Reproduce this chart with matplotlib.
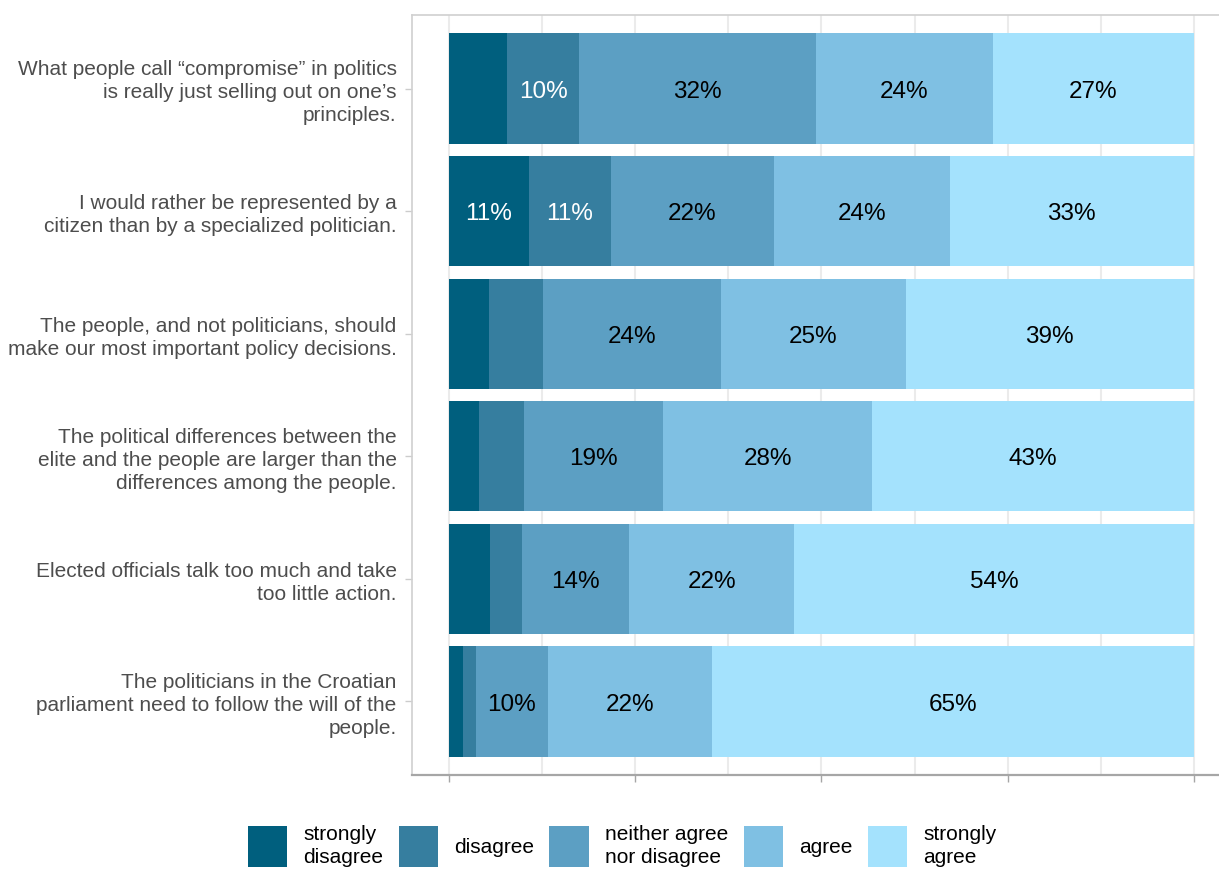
import matplotlib
matplotlib.use("Agg")
import matplotlib.pyplot as plt
import numpy as np

plt.rcParams["font.family"] = ["Liberation Sans", "DejaVu Sans"]

statements = [
    "What people call \u201ccompromise\u201d in politics\nis really just selling out on one\u2019s\nprinciples.",
    "I would rather be represented by a\ncitizen than by a specialized politician.",
    "The people, and not politicians, should\nmake our most important policy decisions.",
    "The political differences between the\nelite and the people are larger than the\ndifferences among the people.",
    "Elected officials talk too much and take\ntoo little action.",
    "The politicians in the Croatian\nparliament need to follow the will of the\npeople.",
]

responses = ["strongly\ndisagree", "disagree", "neither agree\nnor disagree", "agree", "strongly\nagree"]

strongly_disagree = [7.8, 10.7, 5.4, 4.0, 5.5, 1.9]
disagree = [9.6, 11.0, 7.2, 6.1, 4.3, 1.7]
neutral = [31.9, 21.9, 23.9, 18.6, 14.4, 9.6]
agree = [23.7, 23.6, 24.8, 28.1, 22.1, 22.1]
strongly_agree = [27.0, 32.8, 38.7, 43.2, 53.7, 64.7]

colors = ["#005f7e", "#367e9f", "#5c9fc3", "#7fc0e3", "#a4e2fd"]
label_colors = ["white", "white", "black", "black", "black"]

series = [strongly_disagree, disagree, neutral, agree, strongly_agree]

fig = plt.figure(figsize=(12.19, 8.69), dpi=100)
ax = fig.add_axes([412 / 1219, 1 - 775 / 869, 819 / 1219, 760 / 869])

n = len(statements)
ypos = np.arange(n, 0, -1)
left = np.zeros(n)
handles = []
for vals, col, tcol in zip(series, colors, label_colors):
    vals = np.array(vals)
    bars = ax.barh(ypos, vals, left=left, height=0.9, color=col, zorder=2)
    handles.append(bars)
    for y, l, v in zip(ypos, left, vals):
        if round(v) >= 10:
            ax.text(l + v / 2, y - 0.025, f"{round(v)}%", ha="center", va="center",
                    fontsize=17.5, color=tcol, zorder=3)
    left = left + vals

ax.set_xlim(-5, 105)
ax.set_ylim(0.4, n + 0.6)

ax.set_xticks([0, 25, 50, 75, 100])
ax.set_xticks([12.5, 37.5, 62.5, 87.5], minor=True)
ax.set_xticklabels([])
ax.grid(axis="x", which="both", color="#ebebeb", linewidth=1.5, zorder=0)
ax.grid(axis="y", visible=False)
ax.tick_params(axis="x", which="major", length=5, color="#a6a6a6", width=1)
ax.tick_params(axis="x", which="minor", length=0)

ax.set_yticks(ypos)
ax.set_yticklabels(statements, fontsize=15, color="#4d4d4d", linespacing=1.27)
ax.tick_params(axis="y", length=5, color="#cccccc", width=1, pad=6)

for side in ["top", "left", "right"]:
    ax.spines[side].set_color("#d0d0d0")
    ax.spines[side].set_linewidth(1.2)
ax.spines["bottom"].set_color("#a6a6a6")
ax.spines["bottom"].set_linewidth(1.6)

leg = fig.legend(handles, responses, loc="center", ncol=5,
                 bbox_to_anchor=(622 / 1219, 1 - 846 / 869),
                 fontsize=15, frameon=False, handlelength=1.9, handleheight=2.65,
                 handletextpad=0.75, columnspacing=0.75)
for t in leg.get_texts():
    t.set_linespacing(1.3)

fig.savefig("out.png", dpi=100)
